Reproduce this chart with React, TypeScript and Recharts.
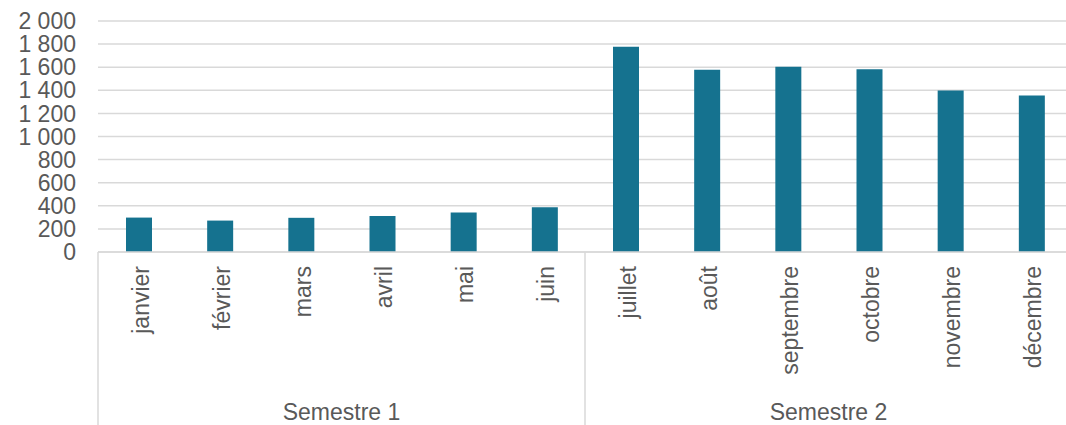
import React from "react";
import { BarChart, Bar, XAxis, YAxis, CartesianGrid } from "recharts";

const months = ["janvier", "février", "mars", "avril", "mai", "juin", "juillet", "août", "septembre", "octobre", "novembre", "décembre"];
const values = [298, 272, 296, 312, 342, 388, 1778, 1578, 1604, 1582, 1398, 1354];
const semesters = ["Semestre 1", "Semestre 1", "Semestre 1", "Semestre 1", "Semestre 1", "Semestre 1", "Semestre 2", "Semestre 2", "Semestre 2", "Semestre 2", "Semestre 2", "Semestre 2"];
const yTicks = [0, 200, 400, 600, 800, 1000, 1200, 1400, 1600, 1800, 2000];

const data = months.map((m, i) => ({ month: m, value: values[i], semester: semesters[i] }));

const VIEW_W = 1066;
const W = 1072;
const H = 425;
const MARGIN = { top: 21, right: 0, bottom: 0, left: 8 };
const Y_WIDTH = 90;
const PLOT_LEFT = MARGIN.left + Y_WIDTH;
const BAND = (W - PLOT_LEFT - MARGIN.right) / months.length;
const TEXT = "#595959";
const GRID = "#d9d9d9";
const FONT = "'Liberation Sans', Arial, sans-serif";
const FS = 23;

const fmt = (v: number) => {
  const s = String(v);
  return s.length > 3 ? s.slice(0, s.length - 3) + "\u00a0" + s.slice(s.length - 3) : s;
};

const MonthTick = (props: any) => {
  const { x, y, payload, index } = props;
  const axisY = y;
  const items: React.ReactNode[] = [];
  items.push(
    <text
      key="m"
      transform={`translate(${x + 2},${axisY + 14}) rotate(-90)`}
      textAnchor="end"
      dominantBaseline="central"
      fill={TEXT}
      fontSize={FS}
      fontFamily={FONT}
    >
      {payload.value}
    </text>
  );
  if (index % 6 === 0) {
    const left = x - BAND / 2;
    items.push(<line key="l" x1={left} x2={left} y1={axisY} y2={H} stroke={GRID} strokeWidth={1.5} />);
    items.push(
      <text
        key="s"
        x={left + BAND * 3}
        y={axisY + 168}
        textAnchor="middle"
        fill={TEXT}
        fontSize={FS}
        fontFamily={FONT}
      >
        {semesters[index]}
      </text>
    );
  }
  return <g>{items}</g>;
};

export default function App() {
  return (
    <div style={{ position: "absolute", left: 0, top: 0, width: VIEW_W, height: H, overflow: "hidden", background: "#fff" }}>
      <BarChart width={W} height={H} data={data} margin={MARGIN} barCategoryGap={0}>
        <CartesianGrid vertical={false} stroke={GRID} strokeWidth={1.5} />
        <XAxis
          dataKey="month"
          interval={0}
          height={H - 252}
          axisLine={{ stroke: GRID, strokeWidth: 1.5 }}
          tickLine={false}
          tickSize={0}
          tickMargin={0}
          tick={<MonthTick />}
        />
        <YAxis
          width={Y_WIDTH}
          domain={[0, 2000]}
          ticks={yTicks}
          interval={0}
          axisLine={false}
          tickLine={false}
          tickSize={0}
          tickMargin={22}
          tickFormatter={fmt}
          tick={{ fill: TEXT, fontSize: FS, fontFamily: FONT }}
        />
        <Bar dataKey="value" fill="#15728F" barSize={26} isAnimationActive={false} />
      </BarChart>
    </div>
  );
}
